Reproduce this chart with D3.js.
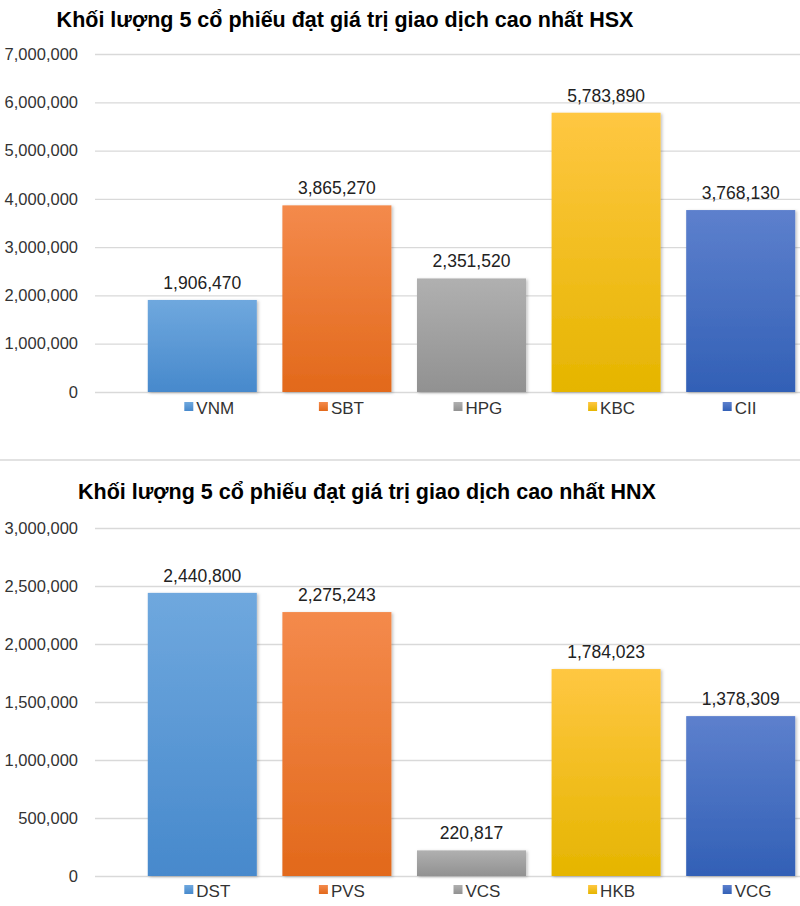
<!DOCTYPE html>
<html>
  <head>
    <meta charset="utf-8">
    <title>Khối lượng 5 cổ phiếu HSX / HNX</title>
    <script src="https://d3js.org/d3.v7.min.js"></script>
    <style>
      body { margin: 0; background: #fff; }
      .title { font-family: "Liberation Sans", sans-serif; font-weight: bold; font-size: 21.5px; fill: #000; }
      .tick-label { font-family: "Liberation Sans", sans-serif; font-size: 16.5px; fill: #333; }
      .legend-label { font-family: "Liberation Sans", sans-serif; font-size: 17px; fill: #333; }
      .value-label { font-family: "Liberation Sans", sans-serif; font-size: 17.5px; fill: #222; }
    </style>
  </head>
  <body>
    <svg width="800" height="906"></svg>
    <script>
      // data
      const hsxCodes = ["VNM", "SBT", "HPG", "KBC", "CII"];
      const hsxValues = [1906470, 3865270, 2351520, 5783890, 3768130];
      const hsxTicks = [0, 1000000, 2000000, 3000000, 4000000, 5000000, 6000000, 7000000];

      const hnxCodes = ["DST", "PVS", "VCS", "HKB", "VCG"];
      const hnxValues = [2440800, 2275243, 220817, 1784023, 1378309];
      const hnxTicks = [0, 500000, 1000000, 1500000, 2000000, 2500000, 3000000];

      // bar colours: [top, bottom] of each gradient
      const barColors = [
        ["#6fa8de", "#4789cc"],
        ["#f48a4c", "#e2691b"],
        ["#b0b0b0", "#919191"],
        ["#ffc742", "#e5b500"],
        ["#5d80cd", "#3260b6"]
      ];

      const svg = d3.select("svg");
      const fmt = d3.format(",");

      // gradients
      const defs = svg.append("defs");
      barColors.forEach((c, i) => {
        const grad = defs.append("linearGradient")
          .attr("id", "grad" + i)
          .attr("x1", 0).attr("y1", 0).attr("x2", 0).attr("y2", 1);
        grad.append("stop").attr("offset", "0%").attr("stop-color", c[0]);
        grad.append("stop").attr("offset", "100%").attr("stop-color", c[1]);
      });
      const shadow = defs.append("filter").attr("id", "shadow")
        .attr("x", "-10%").attr("y", "-10%").attr("width", "130%").attr("height", "130%");
      shadow.append("feDropShadow").attr("dx", 1.5).attr("dy", 1).attr("stdDeviation", 1.5)
        .attr("flood-color", "#000").attr("flood-opacity", 0.25);

      function drawChart(opts) {
        const g = svg.append("g");

        g.append("text")
          .attr("class", "title")
          .attr("x", opts.titleX)
          .attr("y", opts.titleY)
          .attr("text-anchor", "middle")
          .text(opts.title);

        const y = d3.scaleLinear()
          .domain([0, opts.ticks[opts.ticks.length - 1]])
          .range([opts.bottom, opts.top]);

        const x = d3.scaleBand()
          .domain(opts.codes)
          .range([135, 808])
          .paddingInner(0.19)
          .paddingOuter(0.095);

        // gridlines + tick labels
        const yAxis = d3.axisLeft(y).tickValues(opts.ticks).tickFormat(fmt)
          .tickSize(-(800 - 95)).tickPadding(17);
        const ax = g.append("g")
          .attr("transform", "translate(95,0)")
          .call(yAxis);
        ax.select(".domain").remove();
        ax.selectAll(".tick line").attr("stroke", "#d9d9d9").attr("stroke-width", 1.3);
        ax.selectAll(".tick text").attr("class", "tick-label").attr("fill", null)
          .attr("font-size", null).attr("font-family", null);

        // bars
        g.selectAll(".bar")
          .data(opts.values)
          .enter().append("rect")
          .attr("class", "bar")
          .attr("x", (d, i) => x(opts.codes[i]))
          .attr("y", d => y(d))
          .attr("width", x.bandwidth())
          .attr("height", d => opts.bottom - y(d))
          .attr("fill", (d, i) => "url(#grad" + i + ")")
          .attr("filter", "url(#shadow)");

        // value labels
        g.selectAll(".value-label")
          .data(opts.values)
          .enter().append("text")
          .attr("class", "value-label")
          .attr("x", (d, i) => x(opts.codes[i]) + x.bandwidth() / 2)
          .attr("y", d => y(d) - 11)
          .attr("text-anchor", "middle")
          .text(d => fmt(d));

        // legend
        const leg = g.selectAll(".legend")
          .data(opts.codes)
          .enter().append("g")
          .attr("class", "legend")
          .attr("transform", d => `translate(${x(d) + x.bandwidth() / 2 - 18},${opts.legendY})`);
        leg.append("rect")
          .attr("x", 0).attr("y", -8)
          .attr("width", 9).attr("height", 9)
          .attr("fill", (d, i) => "url(#grad" + i + ")");
        leg.append("text")
          .attr("class", "legend-label")
          .attr("x", 12).attr("y", 1)
          .attr("dominant-baseline", "middle")
          .attr("dy", "-0.1em")
          .text(d => d);
      }

      drawChart({
        title: "Khối lượng 5 cổ phiếu đạt giá trị giao dịch cao nhất HSX",
        titleX: 345, titleY: 27,
        codes: hsxCodes, values: hsxValues, ticks: hsxTicks,
        top: 54, bottom: 392, legendY: 410
      });

      // separator between the two charts
      svg.append("line")
        .attr("x1", 0).attr("x2", 800)
        .attr("y1", 460).attr("y2", 460)
        .attr("stroke", "#d9d9d9").attr("stroke-width", 1.5);

      drawChart({
        title: "Khối lượng 5 cổ phiếu đạt giá trị giao dịch cao nhất HNX",
        titleX: 367, titleY: 499,
        codes: hnxCodes, values: hnxValues, ticks: hnxTicks,
        top: 528, bottom: 876, legendY: 893
      });
    </script>
  </body>
</html>
